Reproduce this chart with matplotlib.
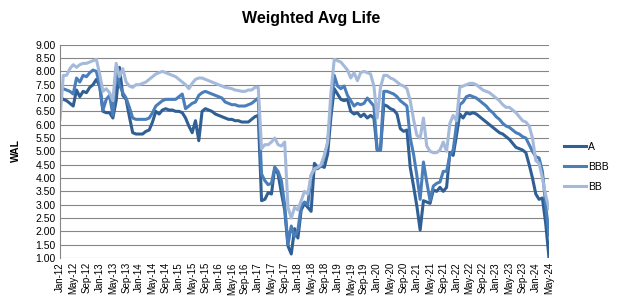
import numpy as np
import pandas as pd
import matplotlib
matplotlib.use('Agg')
import matplotlib.pyplot as plt

plt.rcParams['font.family'] = ['Liberation Sans', 'DejaVu Sans']

# monthly categories Jan-12 .. May-24
months = pd.date_range('2012-01-01', '2024-05-01', freq='MS')
month_labels = [d.strftime('%b-%y') for d in months]

# WAL by month
wal_a = [
    7.05, 6.95, 6.9, 6.8, 6.7, 7.3, 7.05, 7.25, 7.2, 7.4,
    7.5, 7.7, 7.45, 6.5, 6.45, 6.45, 6.25, 6.9, 8.15, 7.1,
    6.95, 6.3, 5.7, 5.65, 5.65, 5.65, 5.75, 5.8, 6.1, 6.5,
    6.4, 6.55, 6.6, 6.55, 6.55, 6.5, 6.5, 6.45, 6.25, 5.95,
    5.7, 6.15, 5.4, 6.5, 6.6, 6.55, 6.5, 6.4, 6.35, 6.3,
    6.25, 6.2, 6.2, 6.15, 6.15, 6.1, 6.1, 6.1, 6.2, 6.3,
    6.35, 3.15, 3.2, 3.45, 3.4, 4.4, 4.15, 3.45, 2.8, 1.45,
    1.15, 2.1, 1.75, 2.8, 3.05, 2.9, 2.75, 4.55, 4.4, 4.45,
    4.4, 4.9, 6.3, 7.35, 7.15, 6.95, 6.9, 6.95, 6.5, 6.4,
    6.45, 6.3, 6.4, 6.25, 6.35, 6.25, 5.05, 5.05, 6.75, 6.7,
    6.6, 6.55, 6.4, 5.85, 5.75, 5.8, 4.4, 3.7, 2.95, 2.05,
    3.15, 3.1, 3.05, 3.55, 3.5, 3.65, 3.5, 3.65, 4.95, 4.85,
    5.6, 6.4, 6.25, 6.45, 6.4, 6.45, 6.4, 6.3, 6.2, 6.1,
    6.0, 5.9, 5.8, 5.7, 5.65, 5.55, 5.45, 5.3, 5.15, 5.1,
    5.05, 4.95, 4.5, 4.0, 3.4, 3.2, 3.25, 2.3, 1.0,
]
wal_bbb = [
    7.45, 7.35, 7.3, 7.25, 7.15, 7.75, 7.6, 7.85, 7.8, 7.95,
    8.05, 8.0, 7.5, 6.55, 6.95, 7.1, 6.35, 8.15, 7.5, 7.2,
    7.0, 6.65, 6.25, 6.2, 6.2, 6.2, 6.2, 6.25, 6.45, 6.7,
    6.8, 6.9, 6.95, 6.95, 6.95, 6.95, 7.05, 7.15, 6.6, 6.7,
    6.8, 6.85, 7.1, 7.2, 7.25, 7.2, 7.15, 7.1, 7.05, 7.0,
    6.85, 6.8, 6.75, 6.75, 6.7, 6.7, 6.7, 6.75, 6.8, 6.9,
    7.0, 4.15, 3.9, 3.75, 3.8, 4.4, 4.25, 3.9, 3.0, 1.5,
    2.2, 1.8, 2.05, 2.95, 3.1, 3.0, 4.1, 4.35, 4.35, 4.45,
    4.8, 5.3, 6.6, 7.85, 7.45, 7.35, 7.45, 7.1, 6.9, 6.7,
    6.8, 6.75, 6.8, 7.0, 6.85, 6.7, 5.05, 5.05, 7.25, 7.25,
    7.2, 7.15, 7.05, 6.9, 6.8, 6.7, 5.5, 4.9, 4.1, 3.2,
    4.6, 3.85, 3.15, 3.7, 3.8, 3.85, 4.25, 4.25, 4.85, 5.05,
    6.0, 6.75, 6.85, 7.05, 7.1, 7.05, 7.0, 6.9, 6.8, 6.7,
    6.55, 6.45, 6.3, 6.2, 6.05, 5.95, 5.9, 5.8, 5.7, 5.65,
    5.55, 5.5, 5.25, 5.0, 4.8, 4.75, 4.25, 3.0, 1.85,
]
wal_bb = [
    6.2, 7.85, 7.85, 8.1, 8.25, 8.15, 8.25, 8.3, 8.3, 8.35,
    8.4, 8.45, 7.9, 7.25, 7.35, 7.2, 6.9, 8.3, 7.8, 8.1,
    7.6, 7.45, 7.4, 7.5, 7.5, 7.55, 7.6, 7.7, 7.8, 7.9,
    7.95, 8.0, 7.95, 7.9, 7.85, 7.8, 7.7, 7.6, 7.5, 7.35,
    7.55, 7.7, 7.75, 7.75, 7.7, 7.65, 7.6, 7.55, 7.5, 7.45,
    7.4, 7.38, 7.35, 7.3, 7.28, 7.25, 7.25, 7.3, 7.3, 7.4,
    7.4, 5.1, 5.25, 5.25, 5.35, 5.5, 5.25, 5.2, 5.35, 2.9,
    2.5, 2.9, 2.8, 3.15, 3.5, 3.4, 4.1, 4.35, 4.4, 4.5,
    4.85, 5.35, 7.2, 8.45, 8.4, 8.35, 8.2, 8.05, 7.75, 7.95,
    7.65, 7.95, 8.0, 7.95, 7.9, 7.45, 6.25, 7.4, 7.85, 7.85,
    7.75, 7.7, 7.6, 7.5, 7.45, 7.35, 6.9, 6.2, 5.6, 5.5,
    6.25, 5.2, 5.0, 4.95, 4.95, 5.05, 5.35, 5.0, 6.05, 6.35,
    6.15, 7.4, 7.45, 7.5, 7.55, 7.55, 7.5, 7.4, 7.3, 7.25,
    7.2, 7.1, 7.0, 6.9, 6.75, 6.65, 6.65, 6.55, 6.45, 6.3,
    6.15, 6.1, 5.95, 5.5, 4.65, 4.55, 4.0, 3.35, 2.85,
]

series_names = ['A', 'BBB', 'BB']
colors = ['#2F5F94', '#4A7EBB', '#A5BADB']

fig = plt.figure(figsize=(6.18, 3.01), dpi=100)
ax = fig.add_axes([60 / 618, 1 - 258 / 301, 489 / 618, (258 - 44.7) / 301])

x = np.arange(len(months))
for name, vals, c in zip(series_names, [wal_a, wal_bbb, wal_bb], colors):
    ax.plot(x[:len(vals)], vals, color=c, lw=2.2, label=name, solid_joinstyle='round')

ax.set_xlim(0, len(months) - 1)
ax.set_ylim(1, 9)
ax.set_yticks(np.arange(1, 9.01, 0.5))
ax.set_yticklabels(['%.2f' % v for v in np.arange(1, 9.01, 0.5)], fontsize=7.5)
ax.set_xticks(x[::4])
ax.set_xticklabels(month_labels[::4], rotation=90, fontsize=7)
ax.tick_params(length=0, pad=3)
ax.grid(axis='y', color='#868686', lw=0.8)
ax.set_axisbelow(True)
for s in ['top', 'right', 'bottom']:
    ax.spines[s].set_visible(False)
ax.spines['left'].set_color('#868686')
ax.spines['left'].set_linewidth(0.8)

fig.text(0.504, 1 - 18 / 301, 'Weighted Avg Life', ha='center', va='center',
         fontsize=11.5, fontweight='bold')
fig.text(16 / 618, 1 - 151 / 301, 'WAL', rotation=90, ha='center', va='center',
         fontsize=7.5, fontweight='bold')

fig.legend(loc='center left', bbox_to_anchor=(564 / 618, 1 - 167 / 301), frameon=False,
           fontsize=7.5, handlelength=2.1, handletextpad=0.2, labelspacing=0.95,
           borderpad=0, borderaxespad=0)

fig.savefig('out.png', dpi=100)
